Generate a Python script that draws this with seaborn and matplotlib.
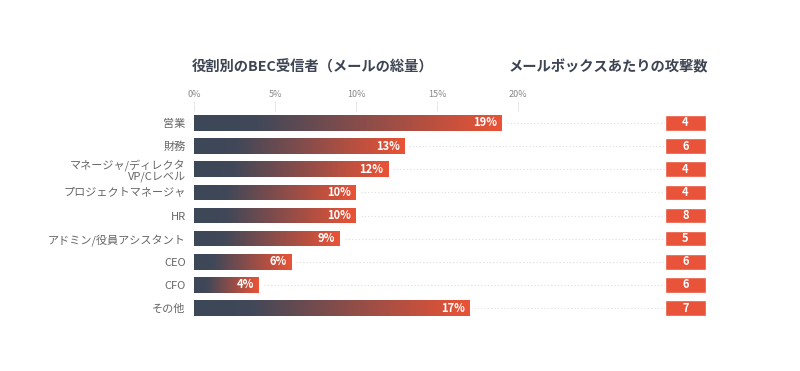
import numpy as np
import pandas as pd
import seaborn as sns
import matplotlib.pyplot as plt
from matplotlib.colors import LinearSegmentedColormap

roles = ["営業", "財務", "マネージャ/ディレクタ\nVP/Cレベル", "プロジェクトマネージャ", "HR",
         "アドミン/役員アシスタント", "CEO", "CFO", "その他"]
share = [19, 13, 12, 10, 10, 9, 6, 4, 17]
attacks = [4, 6, 4, 4, 8, 5, 6, 6, 7]
ticks = [0, 5, 10, 15, 20]

df = pd.DataFrame({"role": roles, "share": share, "attacks": attacks})

sns.set_theme(style="white")
plt.rcParams["font.family"] = ["Noto Sans CJK JP", "DejaVu Sans"]

dark = "#3d4452"
red = "#e9533a"
cmap = LinearSegmentedColormap.from_list(
    "bec", [(0, "#3c4757"), (0.2, "#404859"), (1, "#ea5336")])

fig = plt.figure(figsize=(8, 3.71), dpi=100)
ax = fig.add_axes([194 / 800, 1 - 319.6 / 371, 471 / 800, 208.2 / 371])
ax2 = fig.add_axes([665 / 800, 1 - 319.6 / 371, 41 / 800, 208.2 / 371])

sns.barplot(data=df, x="share", y="role", ax=ax, color=red, width=0.68,
            orient="h", zorder=3)
xmax = 20 * 471 / 324

grad = np.linspace(0, 1, 256).reshape(1, -1)
for p, v in zip(ax.patches, share):
    x0, y0 = p.get_x(), p.get_y()
    w, h = p.get_width(), p.get_height()
    p.set_facecolor("none")
    p.set_edgecolor("none")
    im = ax.imshow(grad, cmap=cmap, aspect="auto", zorder=3,
                   extent=[x0, x0 + w, y0 + h, y0])
    im.set_clip_path(p)
    ax.text(x0 + w - 0.3, y0 + h / 2, f"{v}%", color="white",
            fontsize=8, fontweight="bold", ha="right", va="center", zorder=4)
    ax.plot([x0 + w + 0.3, xmax], [y0 + h / 2] * 2,
            color="#dddddd", lw=0.8, ls=(0, (1, 2)), zorder=1)
ax.set_xlim(0, xmax)
ax.set_ylim(len(roles) - 0.5, -0.5)

ax.xaxis.tick_top()
ax.set_xticks(ticks)
ax.set_xticklabels([f"{t}%" for t in ticks], fontsize=6.5, color="#888888")
ax.tick_params(axis="x", length=7, width=0.7, color="#e6e6e6", pad=2, top=True)
ax.tick_params(axis="y", length=0, pad=6, labelsize=8, labelcolor="#666666")
ax.set_xlabel("")
ax.set_ylabel("")
for lbl in ax.get_yticklabels():
    lbl.set_linespacing(1.0)
sns.despine(ax=ax, left=True, bottom=True, top=True, right=True)

sns.barplot(data=df.assign(one=1), x="one", y="role", ax=ax2, color=red,
            width=0.68, orient="h", saturation=1)
for i, a in enumerate(attacks):
    ax2.text(0.5, i, str(a), color="white", fontsize=8, fontweight="bold",
             ha="center", va="center")
ax2.set_xlim(0, 1)
ax2.set_ylim(len(roles) - 0.5, -0.5)
ax2.axis("off")

fig.text(192 / 800, 1 - 67 / 371, "役割別のBEC受信者（メールの総量）", fontsize=10.3,
         fontweight="bold", color=dark, ha="left", va="center")
fig.text(708 / 800, 1 - 67 / 371, "メールボックスあたりの攻撃数", fontsize=10.3,
         fontweight="bold", color=dark, ha="right", va="center")

fig.savefig("out.png", dpi=100)
plt.close()
